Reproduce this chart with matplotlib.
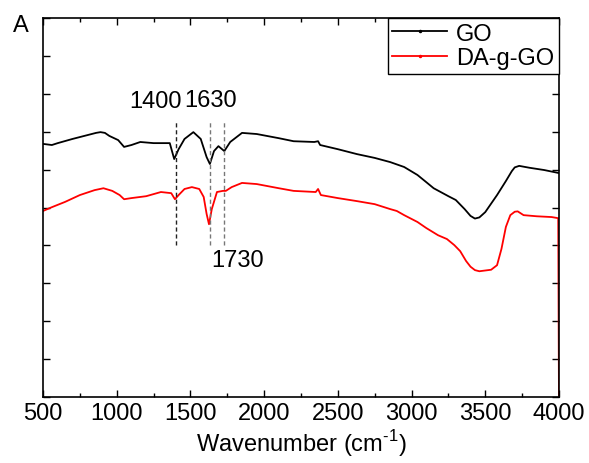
"""
FTIR spectra of GO and DA-g-GO.
"""

import matplotlib
matplotlib.use('Agg')
import matplotlib.pyplot as plt
from matplotlib.lines import Line2D
from matplotlib.ticker import MultipleLocator

fam, fs = 'Liberation Sans', 17
plt.rcParams['font.family'] = [fam, 'DejaVu Sans']
plt.rcParams['mathtext.fontset'] = 'custom'
plt.rcParams['mathtext.rm'] = fam

# GO spectrum (wavenumber, arbitrary transmittance)
go_x = [500, 560, 600, 700, 800, 860, 890, 920, 950, 1010, 1050, 1100, 1160, 1250,
        1360, 1390, 1420, 1460, 1520, 1570, 1610, 1632, 1660, 1690, 1730, 1770,
        1850, 1950, 2100, 2200, 2340, 2366, 2380, 2500, 2630, 2750, 2855, 2950,
        3040, 3100, 3150, 3250, 3300, 3360, 3400, 3430, 3460, 3500, 3580, 3640,
        3680, 3700, 3730, 3800, 3900, 4000]
go_y = [6.68, 6.65, 6.70, 6.81, 6.91, 6.97, 6.99, 6.97, 6.89, 6.78, 6.60, 6.65, 6.73,
        6.70, 6.70, 6.28, 6.54, 6.81, 6.99, 6.81, 6.33, 6.15, 6.49, 6.62, 6.49,
        6.73, 6.97, 6.94, 6.83, 6.75, 6.73, 6.75, 6.65, 6.54, 6.41, 6.31, 6.20,
        6.07, 5.86, 5.67, 5.51, 5.30, 5.20, 4.96, 4.78, 4.71, 4.74, 4.88, 5.33,
        5.70, 5.96, 6.06, 6.10, 6.05, 5.99, 5.91]

# DA-g-GO spectrum
da_x = [500, 560, 650, 750, 850, 910, 970, 1020, 1050, 1100, 1160, 1200, 1300,
        1370, 1395, 1420, 1460, 1510, 1560, 1590, 1610, 1626, 1645, 1680, 1720,
        1740, 1780, 1850, 1950, 2100, 2200, 2350, 2366, 2385, 2500, 2630, 2750,
        2855, 2900, 2950, 3040, 3100, 3180, 3240, 3290, 3330, 3370, 3400, 3430,
        3460, 3540, 3580, 3610, 3640, 3670, 3700, 3720, 3760, 3850, 3950, 3995,
        4000]
da_y = [4.91, 5.01, 5.15, 5.33, 5.46, 5.51, 5.44, 5.33, 5.22, 5.25, 5.28, 5.30, 5.41,
        5.38, 5.22, 5.33, 5.49, 5.54, 5.49, 5.28, 4.83, 4.56, 4.96, 5.41, 5.44,
        5.44, 5.54, 5.65, 5.62, 5.51, 5.44, 5.41, 5.49, 5.33, 5.25, 5.17, 5.09,
        4.96, 4.91, 4.80, 4.62, 4.46, 4.27, 4.17, 4.01, 3.85, 3.59, 3.44, 3.35,
        3.32, 3.36, 3.48, 3.91, 4.49, 4.80, 4.89, 4.90, 4.80, 4.77, 4.75, 4.72,
        0.0]

peaks = [1400, 1630, 1730]
peak_colors = ['#222222', '#777777', '#777777']

fig = plt.figure(figsize=(5.89, 4.64), dpi=100)
ax = fig.add_axes([0.073, 0.142, 0.876, 0.817])

ax.plot(go_x, go_y, color='black', lw=1.3)
ax.plot(da_x, da_y, color='red', lw=1.3)

for p, c in zip(peaks, peak_colors):
    ax.plot([p, p], [4.0, 7.32], color=c, lw=1.0, ls=(0, (3, 2)))

ax.text(1265, 7.8, '1400', fontsize=fs, ha='center', va='center')
ax.text(1640, 7.85, '1630', fontsize=fs, ha='center', va='center')
ax.text(1820, 3.62, '1730', fontsize=fs, ha='center', va='center')

ax.set_xlim(500, 4000)
ax.set_ylim(0, 10)
ax.xaxis.set_major_locator(MultipleLocator(500))
ax.xaxis.set_minor_locator(MultipleLocator(250))
ax.yaxis.set_major_locator(MultipleLocator(1))
ax.tick_params(axis='both', which='both', direction='in', top=True, right=True,
               labelsize=fs, width=1.0)
ax.tick_params(which='major', length=5)
ax.tick_params(which='minor', length=3)
ax.set_yticklabels([])
for s in ax.spines.values():
    s.set_linewidth(1.2)

ax.set_xlabel('Wavenumber (cm$^{\\text{-1}}$)', fontsize=fs, labelpad=2)
fig.text(0.022, 0.93, 'A', fontsize=fs)

handles = [Line2D([], [], color='black', lw=1.3, marker='.', markersize=3),
           Line2D([], [], color='red', lw=1.3, marker='.', markersize=3)]
leg = ax.legend(handles, ['GO', 'DA-g-GO'], loc='upper right',
                bbox_to_anchor=(1.0, 1.0), borderaxespad=0, fontsize=fs,
                fancybox=False, edgecolor='black', framealpha=1,
                handlelength=2.3, handletextpad=0.4, borderpad=0.2,
                labelspacing=0.1)
leg.get_frame().set_linewidth(1.0)

fig.savefig('out.png', dpi=100)
